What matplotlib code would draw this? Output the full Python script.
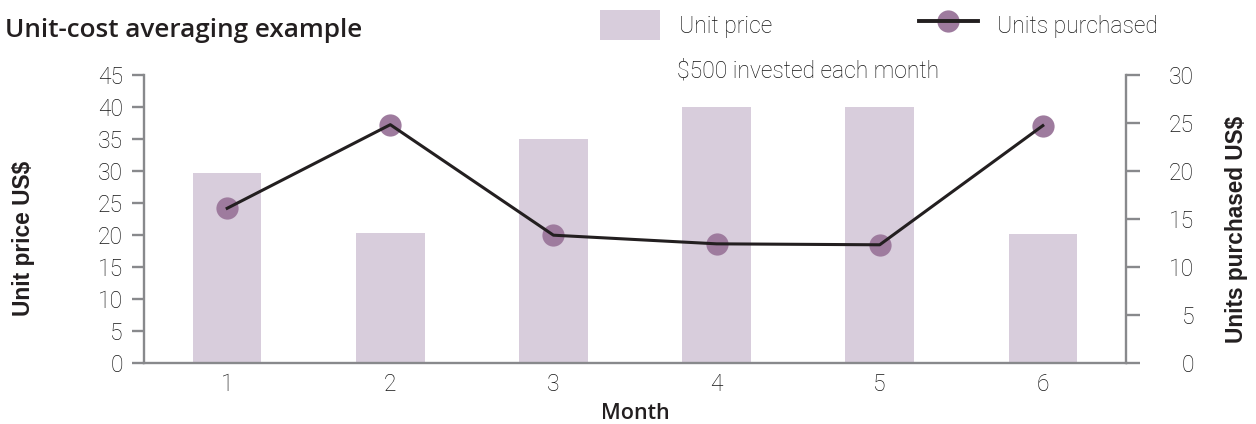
import matplotlib
matplotlib.use("Agg")
import matplotlib.pyplot as plt
from matplotlib.lines import Line2D
from matplotlib.legend_handler import HandlerTuple

months = [1, 2, 3, 4, 5, 6]
month_labels = ["1", "2", "3", "4", "5", "6"]
unit_price = [29.6, 20.3, 35.0, 40.0, 40.0, 20.2]
units_purchased = [16.1, 24.8, 13.3, 12.4, 12.3, 24.7]
left_ticks = [0, 5, 10, 15, 20, 25, 30, 35, 40, 45]
right_ticks = [0, 5, 10, 15, 20, 25, 30]

BAR = "#d8cddc"
DOT = "#9e7b9e"
LINE = "#231f20"
SPINE = "#88898c"
TXT = "#141414"
W, H = 1256, 424
FS = 16.5
LIGHT = ["Roboto", "DejaVu Sans"]
BOLD = ["Liberation Sans", "DejaVu Sans"]
HUMAN = ["Open Sans", "DejaVu Sans"]

plt.rcParams["font.family"] = LIGHT

fig = plt.figure(figsize=(W / 100, H / 100), dpi=100)
ax = fig.add_axes([144 / W, 1 - 363 / H, (1126 - 144) / W, (363 - 74.7) / H])
ax2 = ax.twinx()

bars = ax.bar(months, unit_price, width=0.42, color=BAR, zorder=1)
ax.set_xlim(0.49, 6.51)
ax.set_ylim(0, 45)
ax2.set_ylim(0, 30)

dots, = ax2.plot(months, units_purchased, linestyle="none", marker="o", markersize=16,
                 markerfacecolor=DOT, markeredgecolor="none", zorder=2)
line, = ax2.plot(months, units_purchased, color=LINE, linewidth=2.2, zorder=3)

for a in (ax, ax2):
    for s in a.spines.values():
        s.set_color(SPINE)
        s.set_linewidth(1.7)
    a.spines["top"].set_visible(False)
ax.spines["right"].set_visible(False)
ax2.spines["left"].set_visible(False)
ax2.spines["bottom"].set_visible(False)

ax.set_xticks(months)
ax.set_xticklabels(month_labels)
ax.tick_params(axis="x", length=0, pad=7.5, labelsize=FS, labelcolor=TXT)
ax.set_yticks(left_ticks)
ax.tick_params(axis="y", direction="out", length=8.6, width=1.7, color=SPINE,
               pad=6.5, labelsize=FS, labelcolor=TXT)
ax2.set_yticks(right_ticks)
ax2.tick_params(axis="y", direction="out", length=10, width=1.7, color=SPINE,
                pad=39, labelsize=FS, labelcolor=TXT)
for lbl in ax2.get_yticklabels():
    lbl.set_horizontalalignment("right")
for lbl in ax.get_xticklabels() + ax.get_yticklabels() + ax2.get_yticklabels():
    lbl.set_fontweight("light")

ax.set_xlabel("Month", fontsize=15.5, fontweight="semibold", color=LINE, family=HUMAN)
ax.xaxis.set_label_coords(0.500, -0.176)
ax.xaxis.label.set_va("center")

ax.set_ylabel("Unit price US$", fontsize=16.4, fontweight="bold", color=LINE, family=BOLD)
ax.yaxis.set_label_coords(-0.1232, 0.434)
ax.yaxis.label.set_va("center")
ax.yaxis.label.set_ha("center")

ax2.set_ylabel("Units purchased US$", fontsize=16.3, fontweight="bold", color=LINE, family=BOLD)
ax2.yaxis.set_label_coords(1.113, 0.465)
ax2.yaxis.label.set_va("center")
ax2.yaxis.label.set_ha("center")

fig.text(5 / W, 1 - 37 / H, "Unit-cost averaging example", fontsize=18.8,
         fontweight="semibold", color=LINE, va="baseline", ha="left", family=HUMAN)

leg_marker = Line2D([], [], linestyle="none", marker="o", markersize=16,
                    markerfacecolor=DOT, markeredgecolor="none")
leg_line = Line2D([], [], color=LINE, linewidth=2.8)
leg = fig.legend([bars, (leg_marker, leg_line)], ["Unit price", "Units purchased"], ncol=2,
                 loc="upper left", bbox_to_anchor=(600 / W, 1 - 10 / H),
                 frameon=False, borderpad=0, borderaxespad=0,
                 handlelength=2.6, handleheight=1.66, handletextpad=0.83,
                 columnspacing=6.4, fontsize=FS,
                 handler_map={tuple: HandlerTuple(ndivide=1)})
for t in leg.get_texts():
    t.set_color(TXT)
    t.set_fontweight("light")

fig.text(677 / W, 1 - 77 / H, "$500 invested each month", fontsize=FS,
         color=TXT, fontweight="light", va="baseline", ha="left")

fig.savefig("out.png", dpi=100)
